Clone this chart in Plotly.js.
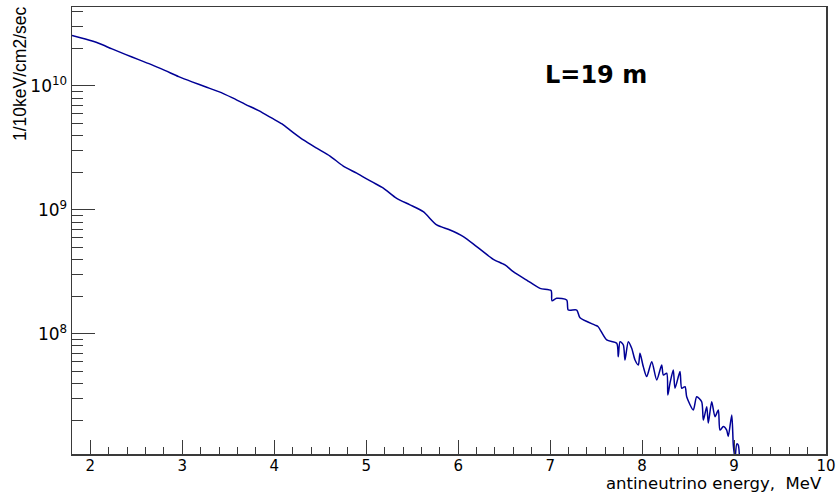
<!DOCTYPE html>
<html>
<head>
<meta charset="utf-8">
<script src="https://cdn.plot.ly/plotly-3.0.1.min.js"></script>
<style>
html,body{margin:0;padding:0;background:#fff;}
#chart{width:836px;height:493px;}
</style>
</head>
<body>
<div id="chart"></div>
<script>
// antineutrino energy (MeV)
var energy = [
  1.800, 1.945, 2.090, 2.235, 2.380, 2.525, 2.670, 2.815, 2.960, 3.105,
  3.250, 3.395, 3.540, 3.685, 3.830, 3.975, 4.084, 4.193, 4.316, 4.461,
  4.606, 4.750, 4.896, 5.059, 5.186, 5.331, 5.476, 5.620, 5.766, 5.911,
  6.056, 6.201, 6.382, 6.509, 6.599, 6.745, 6.890, 7.010, 7.020, 7.071,
  7.180, 7.197, 7.289, 7.325, 7.488, 7.520, 7.615, 7.724, 7.741, 7.760,
  7.796, 7.814, 7.850, 7.887, 7.923, 7.959, 7.977, 8.013, 8.050, 8.105,
  8.159, 8.213, 8.231, 8.268, 8.280, 8.303, 8.339, 8.358, 8.412, 8.431,
  8.467, 8.485, 8.557, 8.594, 8.648, 8.666, 8.703, 8.720, 8.757, 8.793,
  8.829, 8.847, 8.883, 8.920, 8.937, 8.975, 8.992, 9.010, 9.030, 9.046,
  9.060
];
// flux, 1/10keV/cm2/sec
var flux = [
  2.55e10, 2.39e10, 2.21e10, 1.99e10, 1.80e10, 1.63e10, 1.48e10, 1.33e10, 1.19e10, 1.08e10,
  9.86e9, 9.00e9, 8.05e9, 7.11e9, 6.32e9, 5.50e9, 4.94e9, 4.28e9, 3.67e9, 3.15e9,
  2.72e9, 2.26e9, 1.98e9, 1.69e9, 1.50e9, 1.24e9, 1.10e9, 9.68e8, 7.57e8, 6.90e8,
  6.10e8, 5.06e8, 4.00e8, 3.60e8, 3.18e8, 2.72e8, 2.33e8, 2.24e8, 1.85e8, 1.94e8,
  1.88e8, 1.56e8, 1.56e8, 1.35e8, 1.18e8, 1.15e8, 8.95e7, 8.41e7, 6.56e7, 8.67e7,
  8.15e7, 6.17e7, 8.67e7, 7.67e7, 6.17e7, 5.62e7, 6.98e7, 5.45e7, 4.53e7, 5.98e7,
  4.26e7, 5.62e7, 4.67e7, 4.82e7, 3.22e7, 4.00e7, 5.13e7, 3.65e7, 4.97e7, 3.65e7,
  3.76e7, 3.12e7, 2.44e7, 3.12e7, 2.84e7, 2.02e7, 2.59e7, 1.91e7, 2.84e7, 2.15e7,
  2.44e7, 1.68e7, 1.79e7, 1.68e7, 1.49e7, 2.22e7, 1.27e7, 1.0e7, 1.3e7, 1.27e7,
  1e5
];
var xTickVals = [2, 3, 4, 5, 6, 7, 8, 9, 10];
var xTickText = ["2", "3", "4", "5", "6", "7", "8", "9", "10"];
var yTickVals = [1e8, 1e9, 1e10];
var yTickText = ["10<sup>8</sup>", "10<sup>9</sup>", "10<sup>10</sup>"];
var yMinorVals = [2e7,3e7,4e7,5e7,6e7,7e7,8e7,9e7,
                  2e8,3e8,4e8,5e8,6e8,7e8,8e8,9e8,
                  2e9,3e9,4e9,5e9,6e9,7e9,8e9,9e9,
                  2e10,3e10,4e10];
var xTitle = "antineutrino energy,  MeV";
var yTitle = "1/10keV/cm2/sec";
var label = "L=19 m";

var axisColor = "#3a3a3a";
var trace = {
  x: energy, y: flux, type: "scatter", mode: "lines",
  line: {color: "rgb(0,0,150)", width: 1.5, shape: "spline", smoothing: 0.7},
  hoverinfo: "x+y", showlegend: false
};
var layout = {
  width: 836, height: 493,
  margin: {l: 72, r: 10, t: 7, b: 39},
  paper_bgcolor: "#fff", plot_bgcolor: "#fff",
  font: {family: "DejaVu Sans, sans-serif", color: "#000"},
  xaxis: {
    range: [1.8, 10.0], showgrid: false, zeroline: false,
    showline: true, mirror: true, linecolor: axisColor, linewidth: 1.5,
    ticks: "inside", ticklen: 14, tickwidth: 1, tickcolor: axisColor,
    tickvals: xTickVals, ticktext: xTickText, ticklabelstandoff: -3,
    tickfont: {size: 15, family: "DejaVu Sans, sans-serif", color: "#000"},
    minor: {ticks: "inside", ticklen: 7, tickwidth: 1, tickcolor: axisColor, dtick: 0.2, tick0: 0, showgrid: false}
  },
  yaxis: {
    type: "log", range: [7.032, 10.637], showgrid: false, zeroline: false,
    showline: true, mirror: true, linecolor: axisColor, linewidth: 1.5,
    ticks: "inside", ticklen: 23, tickwidth: 1, tickcolor: axisColor,
    tickvals: yTickVals, ticktext: yTickText,
    tickfont: {size: 17, family: "DejaVu Sans, sans-serif", color: "#000"},
    minor: {ticks: "inside", ticklen: 11, tickwidth: 1, tickcolor: axisColor, tickvals: yMinorVals, showgrid: false}
  },
  annotations: [
    {text: label, xref: "paper", yref: "paper", x: (596-72)/754, y: (454-75)/447,
     xanchor: "center", yanchor: "middle", showarrow: false,
     font: {family: "DejaVu Sans, sans-serif", size: 24, color: "#000", weight: "bold"}},
    {text: xTitle, xref: "paper", yref: "paper", x: (823-72)/754, y: (454-484)/447,
     xanchor: "right", yanchor: "middle", showarrow: false, borderpad: 0,
     font: {family: "DejaVu Sans, sans-serif", size: 16.5, color: "#000"}},
    {text: yTitle, xref: "paper", yref: "paper", x: (20-72)/754, y: (454-5)/447,
     xanchor: "center", yanchor: "top", textangle: -90, showarrow: false,
     font: {family: "Liberation Sans, Arial, sans-serif", size: 17.5, color: "#000"}}
  ]
};
Plotly.newPlot("chart", [trace], layout, {staticPlot: true, displayModeBar: false});
</script>
</body>
</html>
